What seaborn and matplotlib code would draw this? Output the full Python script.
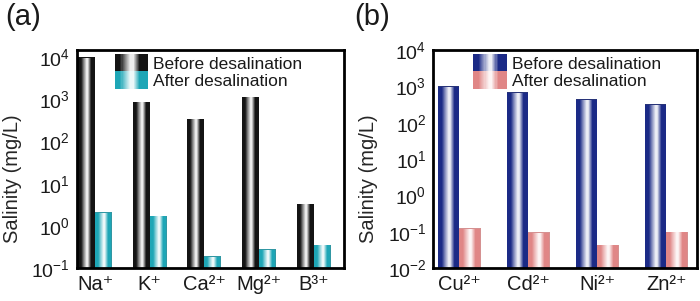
#!/usr/bin/env python
import numpy as np
import pandas as pd
import seaborn as sns
import matplotlib
matplotlib.use("Agg")
import matplotlib.pyplot as plt
from matplotlib.patches import Patch, Rectangle
from matplotlib.legend_handler import HandlerBase
from matplotlib.colors import LinearSegmentedColormap, to_rgb
from matplotlib.transforms import blended_transform_factory
from matplotlib.ticker import LogFormatterMathtext, NullLocator

# panel (a)
ions_a = ['Na⁺', 'K⁺', 'Ca²⁺', 'Mg²⁺', 'B³⁺']
before_a = [10000, 870, 345, 1150, 3.3]
after_a = [2.1, 1.74, 0.19, 0.275, 0.36]

# panel (b)
ions_b = ['Cu²⁺', 'Cd²⁺', 'Ni²⁺', 'Zn²⁺']
before_b = [1000, 690, 440, 325]
after_b = [0.123, 0.096, 0.043, 0.10]

stages = ['Before desalination', 'After desalination']
colors_a = ['#141414', '#1ea6b6']
colors_b = ['#1b2a86', '#e08686']


def gradient_cmap(color):
    c = np.array(to_rgb(color))
    light = c + (1 - c) * 0.92
    mid = c + (1 - c) * 0.45
    return LinearSegmentedColormap.from_list(
        'g', [(0, c), (0.15, c), (0.3, mid), (0.47, light), (0.55, light),
              (0.75, c), (1, c)])


class GradientHandler(HandlerBase):
    def create_artists(self, legend, orig_handle, xdescent, ydescent,
                       width, height, fontsize, trans):
        cmap = gradient_cmap(orig_handle.get_facecolor())
        n = 30
        out = []
        for i in range(n):
            r = Rectangle((-xdescent + width * i / n, -ydescent - 1),
                          width / n + 0.3, height + 2,
                          facecolor=cmap((i + 0.5) / n), linewidth=0,
                          transform=trans)
            out.append(r)
        return out


def add_gradients(ax, colors):
    trans = blended_transform_factory(ax.transData, ax.transAxes)
    for container, color in zip(ax.containers, colors):
        cmap = gradient_cmap(color)
        grad = cmap(np.linspace(0, 1, 64))[None, :, :]
        for bar in container:
            x0 = bar.get_x()
            x1 = x0 + bar.get_width()
            im = ax.imshow(grad, extent=(x0, x1, 0, 1), transform=trans,
                           aspect='auto', interpolation='bilinear',
                           zorder=bar.get_zorder() + 0.1)
            im.set_clip_path(bar)


def panel(ax, ions, before, after, colors, ylim, xlim, legx, labx):
    df = pd.DataFrame({'ion': ions * 2,
                       'value': before + after,
                       'stage': [stages[0]] * len(ions) + [stages[1]] * len(ions)})
    ax.set_yscale('log')
    sns.barplot(data=df, x='ion', y='value', hue='stage', palette=colors,
                width=0.62, errorbar=None, linewidth=0, legend=False, ax=ax)
    add_gradients(ax, colors)
    ax.set_xlim(*xlim)
    ax.set_ylim(*ylim)
    ax.set_yticks(10.0 ** np.arange(round(np.log10(ylim[0])), 5))
    ax.yaxis.set_major_formatter(LogFormatterMathtext())
    ax.yaxis.set_minor_locator(NullLocator())
    ax.set_xlabel('')
    ax.xaxis.label.set_visible(False)
    ax.set_ylabel('Salinity (mg/L)', fontsize=14.5)
    ax.yaxis.set_label_coords(labx, 0.41)
    ax.tick_params(axis='y', length=4, width=1.5, direction='out',
                   labelsize=14, pad=1)
    ax.tick_params(axis='x', length=0, labelsize=14.5, pad=5)
    for s in ax.spines.values():
        s.set_visible(True)
        s.set_linewidth(2)
        s.set_color('black')
    handles = [Patch(facecolor=c, label=l) for c, l in zip(colors, stages)]
    ax.legend(handles=handles, handler_map={Patch: GradientHandler()},
              loc='upper left', bbox_to_anchor=(legx, 0.975),
              borderaxespad=0, borderpad=0, frameon=False, fontsize=12.5,
              handlelength=1.9, handleheight=0.95, handletextpad=0.3,
              labelspacing=0.05)


def main():
    sns.set_style('white')
    plt.rcParams['font.family'] = ['Liberation Sans', 'DejaVu Sans']
    plt.rcParams['mathtext.fontset'] = 'custom'
    plt.rcParams['mathtext.rm'] = 'Liberation Sans'
    plt.rcParams['mathtext.it'] = 'Liberation Sans:italic'
    plt.rcParams['mathtext.bf'] = 'Liberation Sans:bold'
    plt.rcParams['text.color'] = '#1a1a1a'
    plt.rcParams['xtick.color'] = '#1a1a1a'
    plt.rcParams['ytick.color'] = '#1a1a1a'

    fig = plt.figure(figsize=(7, 3.01), dpi=100, facecolor='w')
    ax_a = fig.add_axes([0.110, 0.1096, 0.381, 0.724])
    ax_b = fig.add_axes([0.619, 0.1096, 0.377, 0.724])

    panel(ax_a, ions_a, before_a, after_a, colors_a,
          (0.1, 10 ** 4.17), (-0.33, 4.55), 0.142, -0.205)
    panel(ax_b, ions_b, before_b, after_b, colors_b,
          (0.01, 10 ** 4.0), (-0.38, 3.45), 0.152, -0.21)

    fig.text(0.008, 0.99, '(a)', fontsize=21, va='top', ha='left')
    fig.text(0.506, 0.99, '(b)', fontsize=21, va='top', ha='left')
    fig.savefig('out.png', dpi=100)


if __name__ == '__main__':
    main()
